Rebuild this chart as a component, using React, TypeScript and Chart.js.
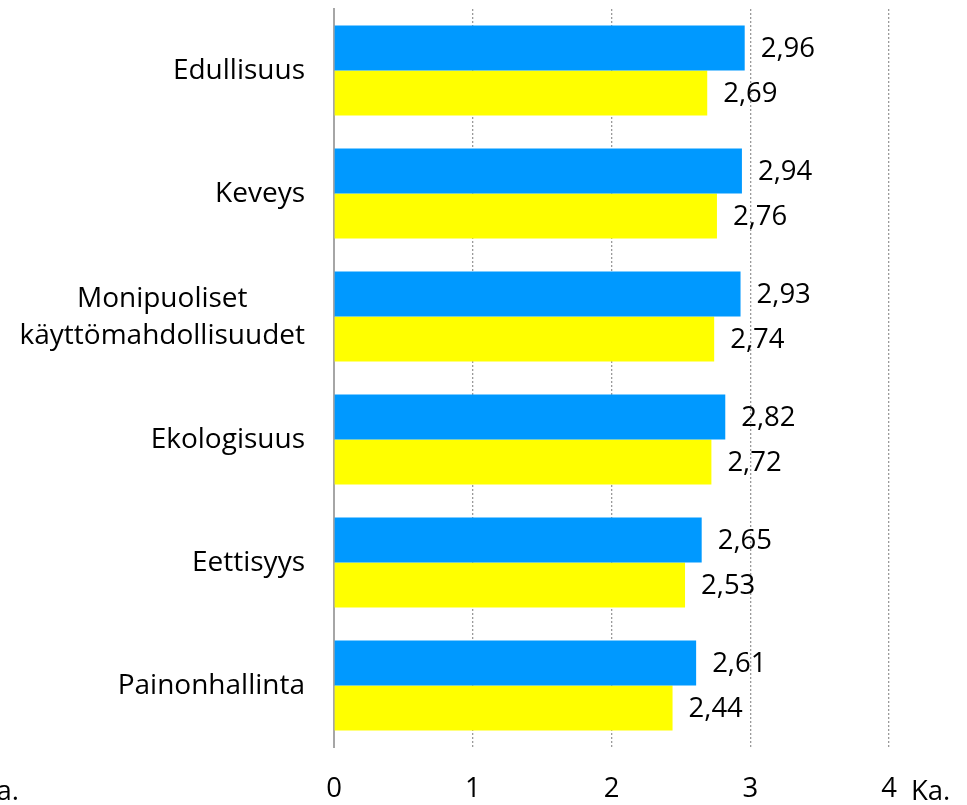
import React, { useEffect, useRef } from "react";
import { Chart, registerables } from "chart.js";

Chart.register(...registerables);

const categories: (string | string[])[] = [
  "Edullisuus",
  "Keveys",
  ["Monipuoliset", "käyttömahdollisuudet"],
  "Ekologisuus",
  "Eettisyys",
  "Painonhallinta",
];
const seriesBlue = [2.96, 2.94, 2.93, 2.82, 2.65, 2.61];
const seriesYellow = [2.69, 2.76, 2.74, 2.72, 2.53, 2.44];
const xTicks = [0, 1, 2, 3, 4];
const axisTitle = "Ka.";

const FONT = "'Open Sans', 'DejaVu Sans', sans-serif";

const valueLabels = {
  id: "valueLabels",
  afterDatasetsDraw(chart: any) {
    const ctx = chart.ctx;
    ctx.save();
    ctx.font = `27.5px ${FONT}`;
    ctx.fillStyle = "#000";
    ctx.textAlign = "left";
    ctx.textBaseline = "middle";
    chart.data.datasets.forEach((ds: any, di: number) => {
      const meta = chart.getDatasetMeta(di);
      meta.data.forEach((bar: any, i: number) => {
        const v = ds.data[i] as number;
        const txt = v.toFixed(2).replace(".", ",");
        ctx.fillText(txt, bar.x + 16, bar.y + 1);
      });
    });
    ctx.restore();
  },
};

const categoryLabels = {
  id: "categoryLabels",
  afterDraw(chart: any) {
    const ctx = chart.ctx;
    const yScale = chart.scales.y;
    const rightEdge = chart.chartArea.left - 29;
    ctx.save();
    ctx.font = `28px ${FONT}`;
    ctx.fillStyle = "#000";
    ctx.textAlign = "center";
    ctx.textBaseline = "middle";
    const lineH = 37;
    categories.forEach((c, i) => {
      const lines = Array.isArray(c) ? c : [c];
      const maxW = Math.max(...lines.map((l) => ctx.measureText(l).width));
      const cx = rightEdge - maxW / 2;
      const cy = yScale.getPixelForValue(i);
      const startY = cy - ((lines.length - 1) * lineH) / 2;
      lines.forEach((l, li) => {
        ctx.fillText(l, cx, startY + li * lineH + 1);
      });
    });
    // axis titles
    const xScale = chart.scales.x;
    const ty = xScale.top + 45;
    ctx.font = `27.5px ${FONT}`;
    ctx.textAlign = "left";
    ctx.fillText(axisTitle, xScale.getPixelForValue(xTicks[xTicks.length - 1]) + 22, ty);
    ctx.textAlign = "right";
    ctx.fillText(axisTitle, 19, ty);
    ctx.restore();
  },
};

export default function App() {
  const ref = useRef<HTMLCanvasElement | null>(null);
  useEffect(() => {
    if (!ref.current) return;
    const chart = new Chart(ref.current, {
      type: "bar",
      data: {
        labels: categories as any,
        datasets: [
          {
            data: seriesBlue,
            backgroundColor: "#0099FF",
            categoryPercentage: 0.73,
            barPercentage: 1,
          },
          {
            data: seriesYellow,
            backgroundColor: "#FFFF00",
            categoryPercentage: 0.73,
            barPercentage: 1,
          },
        ],
      },
      options: {
        indexAxis: "y",
        responsive: false,
        animation: false,
        layout: { padding: { top: 9, right: 78, left: 0, bottom: 0 } },
        plugins: {
          legend: { display: false },
          tooltip: { enabled: false },
        },
        scales: {
          x: {
            min: 0,
            max: 4,
            afterBuildTicks(scale: any) {
              scale.ticks = xTicks.map((v) => ({ value: v }));
            },
            afterFit(scale: any) {
              scale.height = 58;
            },
            ticks: {
              font: { family: FONT, size: 27.5 },
              color: "#000",
              padding: 26,
              maxRotation: 0,
            },
            grid: {
              color: (c: any) => (c.tick && c.tick.value === 0 ? "rgba(0,0,0,0)" : "#9a9a9a"),
              lineWidth: 1.3,
              drawTicks: false,
            },
            border: { display: false, dash: [2, 2] },
          },
          y: {
            afterFit(scale: any) {
              scale.width = 334;
            },
            ticks: { display: false },
            grid: { display: false, drawTicks: false },
            border: { display: true, color: "#a6a6a6", width: 2 },
          },
        },
      },
      plugins: [valueLabels, categoryLabels],
    });
    return () => chart.destroy();
  }, []);
  return (
    <div style={{ position: "fixed", left: 0, top: 0, width: 967, height: 805, background: "#fff" }}>
      <canvas ref={ref} width={967} height={805} style={{ display: "block" }} />
    </div>
  );
}
